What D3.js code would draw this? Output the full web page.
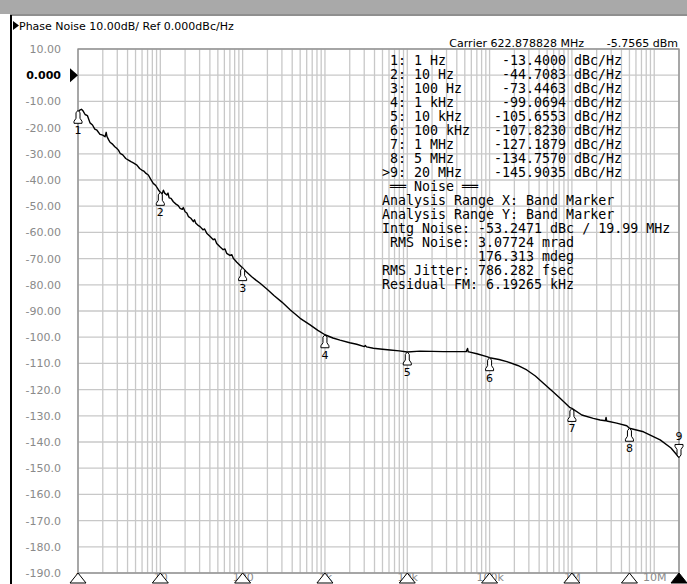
<!DOCTYPE html>
<html>
<head>
<meta charset="utf-8">
<script src="https://cdn.jsdelivr.net/npm/d3@7"></script>
<style>
  body { margin: 0; background: #fff; }
  svg text { font-family: "DejaVu Sans", sans-serif; }
  .mono { font-family: "DejaVu Sans Mono", monospace; font-size: 13.3px; white-space: pre; }
</style>
</head>
<body>
<div class="chart"></div>
<script>
// trace: frequency (Hz) / level (dBc/Hz)
const traceFreq = [1, 1.05, 1.1, 1.15, 1.22, 1.3, 1.4, 1.5, 1.6, 1.7, 1.85, 2.0, 2.13, 2.2, 2.25, 2.35, 2.45, 2.6, 2.8, 2.95,
  3.1, 3.25, 3.5, 3.8, 4.1, 4.4, 4.7, 5.2, 5.6, 5.95, 6.3, 6.7, 7.15, 7.6, 8.2, 8.8, 9.5, 10, 10.5, 10.9,
  11.3, 12, 12.4, 12.8, 13.5, 14.4, 15.5, 16.5, 17.4, 18.5, 19, 20, 21, 22, 23.5, 25.2, 26, 27, 28.5, 30.4,
  33, 34.5, 36.6, 40, 44, 46, 48.4, 53, 58, 61, 64, 70, 74, 77, 85, 98, 110, 129, 145, 163,
  200, 240, 300, 380, 500, 660, 820,
  1000, 1250, 1525, 2000, 2430, 3000, 3100, 3200, 3870, 5000, 6180, 8000, 10000, 14300, 20000, 27500, 40000, 52000, 54000, 55000,
  56000, 70000, 92500, 100000, 130000, 162000, 220000, 283000, 360000, 451000, 580000, 719000, 950000, 1000000, 1320000, 1820000, 2200000, 2550000, 2600000, 2650000,
  3500000, 4640000, 5000000, 7400000, 11800000, 16000000, 20000000];
const traceLevel = [-14.2, -13.3, -13.0, -13.6, -15.0, -15.4, -18.2, -19.0, -20.6, -21.0, -22.6, -22.9, -23.5, -21.8, -23.4, -24.6, -25.6, -26.2, -27.3, -27.9,
  -28.6, -29.8, -30.4, -31.8, -32.4, -33.0, -33.5, -34.3, -35.6, -36.2, -36.6, -37.5, -38.1, -39.6, -41.3, -42.1, -43.8, -44.7, -45.3, -43.9,
  -45.0, -45.7, -45.0, -46.8, -47.0, -48.3, -49.2, -49.8, -50.8, -51.2, -50.5, -52.1, -52.6, -54.0, -54.6, -55.9, -55.2, -56.5, -57.2, -57.8,
  -59.0, -58.7, -60.3, -61.5, -62.8, -62.5, -64.2, -65.5, -66.6, -66.3, -68.0, -68.8, -68.5, -69.9, -71.4, -73.3, -74.9, -76.9, -78.2, -79.4,
  -81.8, -84.1, -86.6, -89.6, -92.8, -95.3, -97.4,
  -99.07, -100.3, -101.1, -102.1, -102.7, -103.6, -103.2, -103.7, -104.2, -104.6, -104.9, -105.2, -105.66, -105.3, -105.4, -105.5, -105.5, -105.5, -104.3, -105.6,
  -105.6, -106.3, -107.4, -107.82, -108.5, -109.3, -110.8, -112.5, -114.8, -117.6, -120.6, -123.3, -126.9, -127.19, -129.7, -131.0, -131.6, -131.9, -130.6, -132.0,
  -132.8, -133.8, -134.76, -136.1, -139.2, -142.3, -145.9];

// markers
const markerNum = [1, 2, 3, 4, 5, 6, 7, 8, 9];
const markerFreq = [1, 10, 100, 1e3, 1e4, 1e5, 1e6, 5e6, 2e7];
const markerFreqLabel = ['1 Hz', '10 Hz', '100 Hz', '1 kHz', '10 kHz', '100 kHz', '1 MHz', '5 MHz', '20 MHz'];
const markerLevel = [-13.4000, -44.7083, -73.4463, -99.0694, -105.6553, -107.8230, -127.1879, -134.7570, -145.9035];
const activeMarker = 9;

// axes
const yTicks = [10, 0, -10, -20, -30, -40, -50, -60, -70, -80, -90, -100, -110, -120, -130, -140, -150, -160, -170, -180, -190];
const yTickLabels = ['10.00', '0.000', '-10.00', '-20.00', '-30.00', '-40.00', '-50.00', '-60.00', '-70.00', '-80.00', '-90.00',
  '-100.0', '-110.0', '-120.0', '-130.0', '-140.0', '-150.0', '-160.0', '-170.0', '-180.0', '-190.0'];
const xTicks = [1, 10, 100, 1e3, 1e4, 1e5, 1e6, 1e7];
const xTickLabels = ['1', '10', '100', '1k', '10k', '100k', '1M', '10M'];

// texts
const titleText = 'Phase Noise 10.00dB/ Ref 0.000dBc/Hz';
const carrierText = 'Carrier 622.878828 MHz';
const carrierPower = '-5.7565 dBm';
const noiseLines = [
  ' \u2550\u2550 Noise \u2550\u2550',
  'Analysis Range X: Band Marker',
  'Analysis Range Y: Band Marker',
  'Intg Noise: -53.2471 dBc / 19.99 MHz',
  ' RMS Noise: 3.07724 mrad',
  '            176.313 mdeg',
  'RMS Jitter: 786.282 fsec',
  'Residual FM: 6.19265 kHz'
];

const width = 687, height = 584;
const pLeft = 78, pRight = 679, pTop = 49, pBottom = 573;

const svg = d3.select('.chart').append('svg')
  .attr('width', width)
  .attr('height', height);

// window chrome
svg.append('rect').attr('x', 0).attr('y', 0).attr('width', width).attr('height', 14).attr('fill', '#a9a9a9');
svg.append('line').attr('x1', 10).attr('x2', width).attr('y1', 15).attr('y2', 15).attr('stroke', '#6a6a6a').attr('stroke-width', 1.5);
svg.append('line').attr('x1', 11).attr('x2', 11).attr('y1', 15).attr('y2', height).attr('stroke', '#000').attr('stroke-width', 2);

svg.append('path').attr('d', 'M13,21 L19,25.5 L13,30 Z').attr('fill', '#000');
svg.append('text').attr('x', 19).attr('y', 30).attr('font-size', '11px').attr('fill', '#000').text(titleText);

let x = d3.scaleLog().domain([1, 2e7]).range([pLeft, pRight]);
let y = d3.scaleLinear().domain([10, -190]).range([pTop, pBottom]);

// grid
let grid = svg.append('g');
grid.selectAll('.vg')
  .data(x.ticks())
  .enter()
  .append('line')
  .attr('x1', d => x(d)).attr('x2', d => x(d))
  .attr('y1', pTop).attr('y2', pBottom)
  .attr('stroke', '#c8c8c8').attr('stroke-width', 1.3);
grid.selectAll('.hg')
  .data(yTicks)
  .enter()
  .append('line')
  .attr('x1', pLeft).attr('x2', pRight)
  .attr('y1', d => y(d)).attr('y2', d => y(d))
  .attr('stroke', '#c8c8c8').attr('stroke-width', 1.3);

svg.append('rect')
  .attr('x', pLeft).attr('y', pTop)
  .attr('width', pRight - pLeft).attr('height', pBottom - pTop)
  .attr('fill', 'none').attr('stroke', '#8c8c8c').attr('stroke-width', 1.3);

// y axis labels
let yAxis = svg.append('g')
  .attr('transform', `translate(${pLeft - 14},0)`)
  .call(d3.axisLeft(y).tickValues(yTicks).tickSize(0).tickFormat((d, i) => yTickLabels[i]));
yAxis.select('.domain').remove();
yAxis.selectAll('text')
  .attr('font-family', 'DejaVu Sans')
  .attr('font-size', '11px')
  .attr('fill', d => d === 0 ? '#000' : '#8a8a8a')
  .attr('font-weight', d => d === 0 ? 'bold' : 'normal');
svg.append('path')
  .attr('d', `M${pLeft - 8},${y(0) - 7} L${pLeft},${y(0)} L${pLeft - 8},${y(0) + 7} Z`)
  .attr('fill', '#000');

// x axis labels
let xAxis = svg.append('g')
  .attr('transform', `translate(0,${pBottom})`)
  .call(d3.axisBottom(x).tickValues(xTicks).tickSize(0).tickPadding(0).tickFormat((d, i) => xTickLabels[i]));
xAxis.select('.domain').remove();
xAxis.selectAll('text')
  .attr('font-family', 'DejaVu Sans')
  .attr('font-size', '11px')
  .attr('fill', '#8a8a8a');

// trace
let line = d3.line()
  .x((d, i) => x(traceFreq[i]))
  .y(d => y(d));
svg.append('path')
  .attr('d', line(traceLevel))
  .attr('fill', 'none')
  .attr('stroke', '#000')
  .attr('stroke-width', 1.4)
  .attr('stroke-linejoin', 'round');

// marker symbols on the trace
const bell = 'M0,0 L-2,2.5 L-2,8 L-4,11 L-4,13 L4,13 L4,11 L2,8 L2,2.5 Z';
let markers = svg.append('g');
markerNum.forEach((n, i) => {
  let mx = x(markerFreq[i]), my = y(markerLevel[i]);
  let flip = n === activeMarker;
  let g = markers.append('g').attr('transform', `translate(${mx},${my})`);
  g.append('path')
    .attr('d', bell)
    .attr('transform', flip ? 'scale(1,-1)' : null)
    .attr('fill', '#fff')
    .attr('stroke', '#000')
    .attr('stroke-width', 1);
  g.append('text')
    .attr('x', 0)
    .attr('y', flip ? -17 : 24)
    .attr('text-anchor', 'middle')
    .attr('font-size', '11px')
    .attr('fill', '#000')
    .text(n);
});

// marker positions on the x axis
svg.append('g').selectAll('path')
  .data(markerFreq)
  .enter()
  .append('path')
  .attr('d', d => `M${x(d)},${pBottom} L${x(d) - 8},${pBottom + 10} L${x(d) + 8},${pBottom + 10} Z`)
  .attr('fill', (d, i) => markerNum[i] === activeMarker ? '#000' : '#fff')
  .attr('stroke', '#000')
  .attr('stroke-width', 1);

// carrier line
svg.append('text').attr('x', 584).attr('y', 47).attr('text-anchor', 'end')
  .attr('font-size', '11px').attr('fill', '#000').text(carrierText);
svg.append('text').attr('x', 678).attr('y', 47).attr('text-anchor', 'end')
  .attr('font-size', '11px').attr('fill', '#000').text(carrierPower);

// marker table
const cw = 8, tx = 382, ty = 65, rh = 14;
let table = svg.append('g').attr('fill', '#000');
markerNum.forEach((n, i) => {
  let by = ty + i * rh;
  table.append('text').attr('class', 'mono').attr('x', tx + 3 * cw).attr('y', by).attr('text-anchor', 'end')
    .text((n === activeMarker ? '>' : '') + n + ':');
  table.append('text').attr('class', 'mono').attr('x', tx + 4 * cw).attr('y', by).text(markerFreqLabel[i]);
  table.append('text').attr('class', 'mono').attr('x', tx + 23 * cw).attr('y', by).attr('text-anchor', 'end')
    .text(markerLevel[i].toFixed(4));
  table.append('text').attr('class', 'mono').attr('x', tx + 24 * cw).attr('y', by).text('dBc/Hz');
});
noiseLines.forEach((s, i) => {
  table.append('text').attr('class', 'mono')
    .attr('xml:space', 'preserve')
    .attr('x', tx).attr('y', ty + (markerNum.length + i) * rh)
    .text(s);
});
</script>
</body>
</html>
